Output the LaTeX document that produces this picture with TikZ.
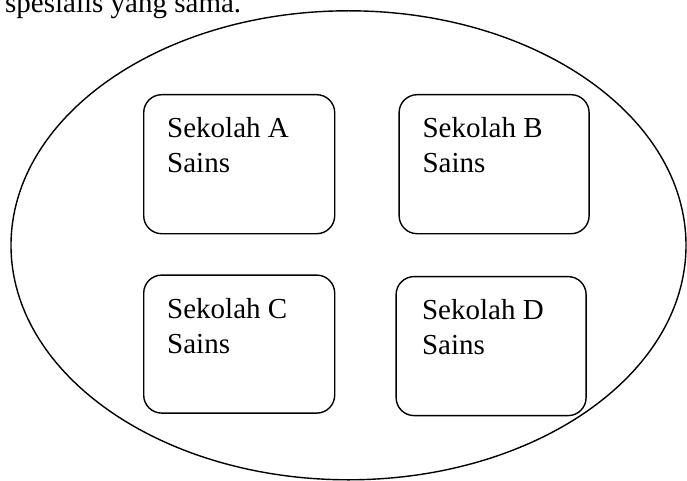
\documentclass[tikz,border=0pt]{standalone}
\usepackage{fontspec}
\setmainfont{Liberation Serif}
\usetikzlibrary{positioning, shapes.geometric}

\begin{document}
\begin{tikzpicture}[x=1pt,y=-1pt,
    font=\fontsize{29}{35}\selectfont,
    sekolah/.style={
            rectangle,
            draw,
            line width=1.4pt,
            rounded corners=18pt,
            minimum width=191pt,
            minimum height=139pt,
            inner sep=0pt},
    label/.style={anchor=base west,inner sep=0pt,align=left}]

\useasboundingbox (0,0) rectangle (687,481);

%Teks====================================================================
\node[anchor=base west,inner sep=0pt] (title) at (5,13) {spesialis yang sama.};

%Kumpulan================================================================
\node[ellipse,draw,line width=1.4pt,inner sep=0pt,minimum width=675pt,minimum height=469pt] (group) at (348.5,245.3) {};

%Sekolah=================================================================
\node[sekolah,anchor=north west] (A) at (143,94) {};
\node[sekolah,right=63pt of A,minimum width=190pt] (B) {};
\node[sekolah,below=40pt of A,minimum height=138pt] (C) {};
\node[sekolah,right=60pt of C,yshift=-2pt,minimum width=190pt,minimum height=139pt] (D) {};

% base anchor = baseline of the last line (Sains)
\node[label] (tA) at ([xshift=24pt,yshift=-78.7pt]A.north west) {Sekolah A\\Sains};
\node[label] (tB) at ([xshift=24pt,yshift=-78.7pt]B.north west) {Sekolah B\\Sains};
\node[label] (tC) at ([xshift=24pt,yshift=-78.7pt]C.north west) {Sekolah C\\Sains};
\node[label] (tD) at ([xshift=26.5pt,yshift=-78.7pt]D.north west) {Sekolah D\\Sains};
%=======================================================================

\end{tikzpicture}
\end{document}
